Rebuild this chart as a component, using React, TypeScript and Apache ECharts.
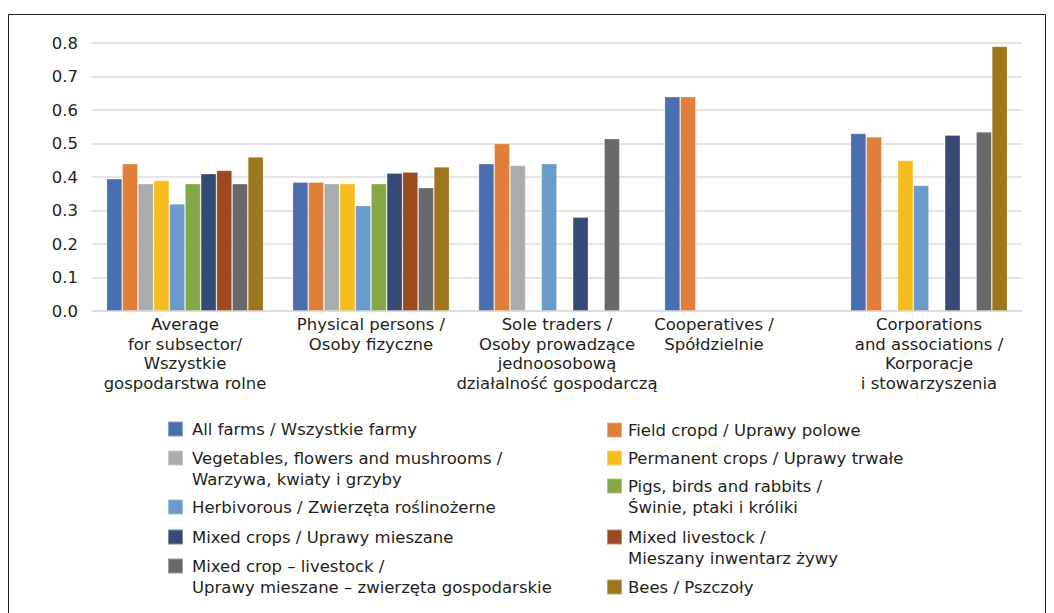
import React, { useEffect, useRef } from "react";
import * as echarts from "echarts";

// Farm types (x axis groups)
const categories = [
  "Average\nfor subsector/\nWszystkie\ngospodarstwa rolne",
  "Physical persons /\nOsoby fizyczne",
  "Sole traders /\nOsoby prowadzące\njednoosobową\ndziałalność gospodarczą",
  "Cooperatives /\nSpółdzielnie",
  "Corporations\nand associations /\nKorporacje\ni stowarzyszenia",
];

const yTicks = [0, 0.1, 0.2, 0.3, 0.4, 0.5, 0.6, 0.7, 0.8];

// Values per agricultural type of farming (null = no bar)
const allFarms = [0.395, 0.385, 0.44, 0.64, 0.53];
const fieldCrops = [0.44, 0.385, 0.5, 0.64, 0.52];
const vegetables = [0.38, 0.38, 0.435, null, null];
const permanentCrops = [0.39, 0.38, null, null, 0.45];
const herbivorous = [0.32, 0.315, 0.44, null, 0.375];
const pigsBirds = [0.38, 0.38, null, null, null];
const mixedCrops = [0.41, 0.412, 0.28, null, 0.525];
const mixedLivestock = [0.42, 0.415, null, null, null];
const mixedCropLivestock = [0.38, 0.368, 0.515, null, 0.535];
const bees = [0.46, 0.43, null, null, 0.79];

const seriesNames = [
  "All farms / Wszystkie farmy",
  "Field cropd / Uprawy polowe",
  "Vegetables, flowers and mushrooms /\nWarzywa, kwiaty i grzyby",
  "Permanent crops / Uprawy trwałe",
  "Herbivorous / Zwierzęta roślinożerne",
  "Pigs, birds and rabbits /\nŚwinie, ptaki i króliki",
  "Mixed crops / Uprawy mieszane",
  "Mixed livestock /\nMieszany inwentarz żywy",
  "Mixed crop – livestock /\nUprawy mieszane – zwierzęta gospodarskie",
  "Bees / Pszczoły",
];

const seriesValues = [
  allFarms,
  fieldCrops,
  vegetables,
  permanentCrops,
  herbivorous,
  pigsBirds,
  mixedCrops,
  mixedLivestock,
  mixedCropLivestock,
  bees,
];

const colors = [
  "#4A6FB1",
  "#E17E37",
  "#ABACAE",
  "#F5BE1E",
  "#6A9BCB",
  "#84A846",
  "#364A76",
  "#9E4A21",
  "#68696B",
  "#9C771C",
];

// Legend item placement: [left, icon centre y, text indent]
const legendSlots: [number, number, number][] = [
  [167, 429, 4],
  [606, 430, 1],
  [167, 458, 4],
  [606, 458, 1],
  [167, 507, 4],
  [606, 486, 1],
  [167, 537, 4],
  [606, 537, 1],
  [167, 566, 4],
  [606, 587, 1],
];

const FONT = "'DejaVu Sans', sans-serif";
const TEXT = "#231F20";
const FS = 16.5;
const LEGEND_LH = 21;

export default function App() {
  const ref = useRef<HTMLDivElement>(null);

  useEffect(() => {
    if (!ref.current) return;
    const chart = echarts.init(ref.current, null, { renderer: "svg" });

    // Each legend entry is laid out as three lines (blank, first, second)
    // so that the swatch lines up with the first line of the name.
    const legends = seriesNames.map((name, i) => {
      const [left, cy, indent] = legendSlots[i];
      return {
        data: [name],
        left,
        top: cy - 7.5 - 24,
        orient: "vertical",
        padding: 0,
        icon: "rect",
        itemWidth: 15,
        itemHeight: 15,
        selectedMode: false,
        formatter: (n: string) => {
          const lines = n.split("\n");
          return [" ", lines[0], lines[1] ?? " "].join("\n");
        },
        textStyle: {
          fontFamily: FONT,
          fontSize: FS,
          color: TEXT,
          lineHeight: LEGEND_LH,
          padding: [0, 0, 0, indent],
        },
      };
    });

    chart.setOption({
      animation: false,
      color: colors,
      graphic: [
        {
          type: "rect",
          shape: { x: 8.5, y: 14.5, width: 1037, height: 640 },
          style: { fill: "none", stroke: "#231F20", lineWidth: 1 },
          silent: true,
        },
      ],
      legend: legends,
      grid: { left: 92, right: 32, top: 43, bottom: 302, containLabel: false },
      xAxis: {
        type: "category",
        data: categories,
        axisTick: { show: false },
        axisLine: { lineStyle: { color: "#D9D9D9", width: 1.5 } },
        axisLabel: {
          interval: 0,
          margin: 4,
          fontFamily: FONT,
          fontSize: FS,
          color: TEXT,
          lineHeight: 19.5,
          formatter: (value: string, idx: number) =>
            idx === 3
              ? value
                  .split("\n")
                  .map((l) => `{s|${l}}`)
                  .join("\n")
              : value,
          rich: {
            s: {
              padding: [0, 58, 0, 0],
              fontFamily: FONT,
              fontSize: FS,
              color: TEXT,
              lineHeight: 19.5,
            },
          },
        },
      },
      yAxis: {
        type: "value",
        min: yTicks[0],
        max: yTicks[yTicks.length - 1],
        interval: 0.1,
        axisLine: { show: false },
        axisTick: { show: false },
        splitLine: { lineStyle: { color: "#DCDCDC", width: 1.5 } },
        axisLabel: {
          margin: 14,
          fontFamily: FONT,
          fontSize: FS,
          color: TEXT,
          formatter: (v: number) => v.toFixed(1),
        },
      },
      series: seriesNames.map((name, i) => ({
        name,
        type: "bar",
        data: seriesValues[i],
        barGap: "0%",
        barCategoryGap: "15.6%",
        itemStyle: {
          color: colors[i],
          borderColor: "rgba(255,255,255,0.35)",
          borderWidth: 0.8,
        },
      })),
    });

    return () => chart.dispose();
  }, []);

  return (
    <div
      ref={ref}
      style={{ position: "absolute", left: 0, top: 0, width: 1054, height: 613, background: "#fff" }}
    />
  );
}
